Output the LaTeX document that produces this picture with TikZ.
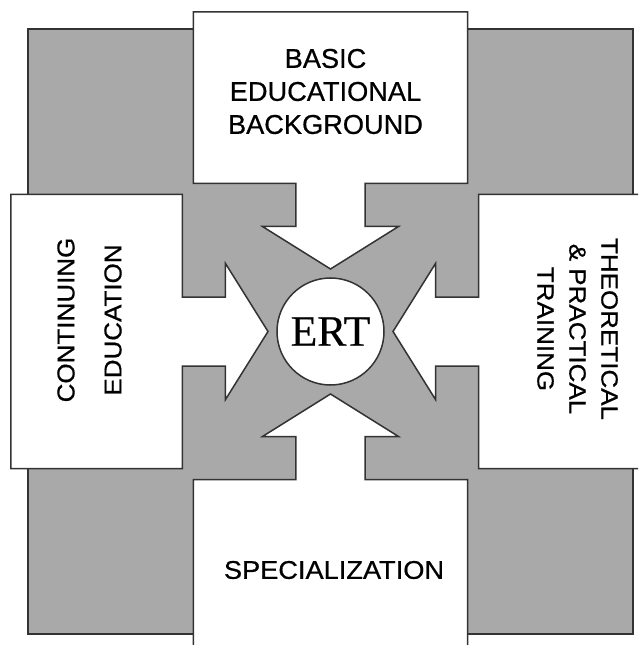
\documentclass[tikz,border=0pt]{standalone}
\usepackage{fontspec}
\setmainfont{Liberation Sans}[FakeBold=0.6,AutoFakeBold=0.6]
\newfontfamily\capfont{Liberation Sans}[FakeBold=0.6]
\newfontfamily\ertfont{Liberation Serif}[FakeBold=0.4]
\definecolor{panelgray}{HTML}{A9A9A9}
\definecolor{edgegray}{HTML}{333333}
\begin{document}
\begin{tikzpicture}[x=1pt,y=1pt,
  outline/.style={draw=edgegray, line width=1.5pt, line join=miter},
  caption/.style={inner sep=0pt, align=center, text=black}]
% page frame, centred on the hub
\useasboundingbox (-330.5,-313.5) rectangle (307.5,331.5);
\clip (-330.5,-313.5) rectangle (307.5,331.5);
\fill[white] (-330.5,-313.5) rectangle (307.5,331.5);
% grey backing square
\draw[outline, fill=panelgray] (-302.5,-302.5) rectangle (302.5,302.5);
% four white panels, each with a stem and an arrowhead aimed at the hub
\foreach \a in {0,90,180,270}{
  \draw[outline, fill=white, rotate=\a]
    (-137,319.5) -- (137,319.5) -- (137,148) -- (34.5,148) -- (34.5,105)
    -- (68,105) -- (0,62.5) -- (-68,105) -- (-34.5,105) -- (-34.5,148)
    -- (-137,148) -- cycle;
}
% hub
\node[circle, outline, fill=white, minimum size=107pt, inner sep=0pt,
      font=\ertfont\fontsize{43.5}{44}\selectfont] (ert) at (0,0) {ERT};
% panel captions
\node[caption, font=\capfont\fontsize{27.2}{33}\selectfont] (basic) at (-5,240)
  {BASIC\\EDUCATIONAL\\BACKGROUND};
\node[caption, rotate=90, font=\capfont\fontsize{26}{47}\selectfont] (cont) at (-241,11.5)
  {\scalebox{1}[0.94]{CONTINUING}\\\scalebox{1}[0.94]{EDUCATION}};
\node[caption, rotate=-90, font=\capfont\fontsize{26}{32}\selectfont] (theo) at (247,2.5)
  {\scalebox{1}[0.9]{THEORETICAL}\\\scalebox{1}[0.9]{\& PRACTICAL}\\\scalebox{1}[0.9]{TRAINING}};
\node[caption, font=\capfont\fontsize{27.2}{33}\selectfont] (spec) at (3.5,-238.5)
  {\scalebox{1}[0.94]{SPECIALIZATION}};
\end{tikzpicture}
\end{document}
